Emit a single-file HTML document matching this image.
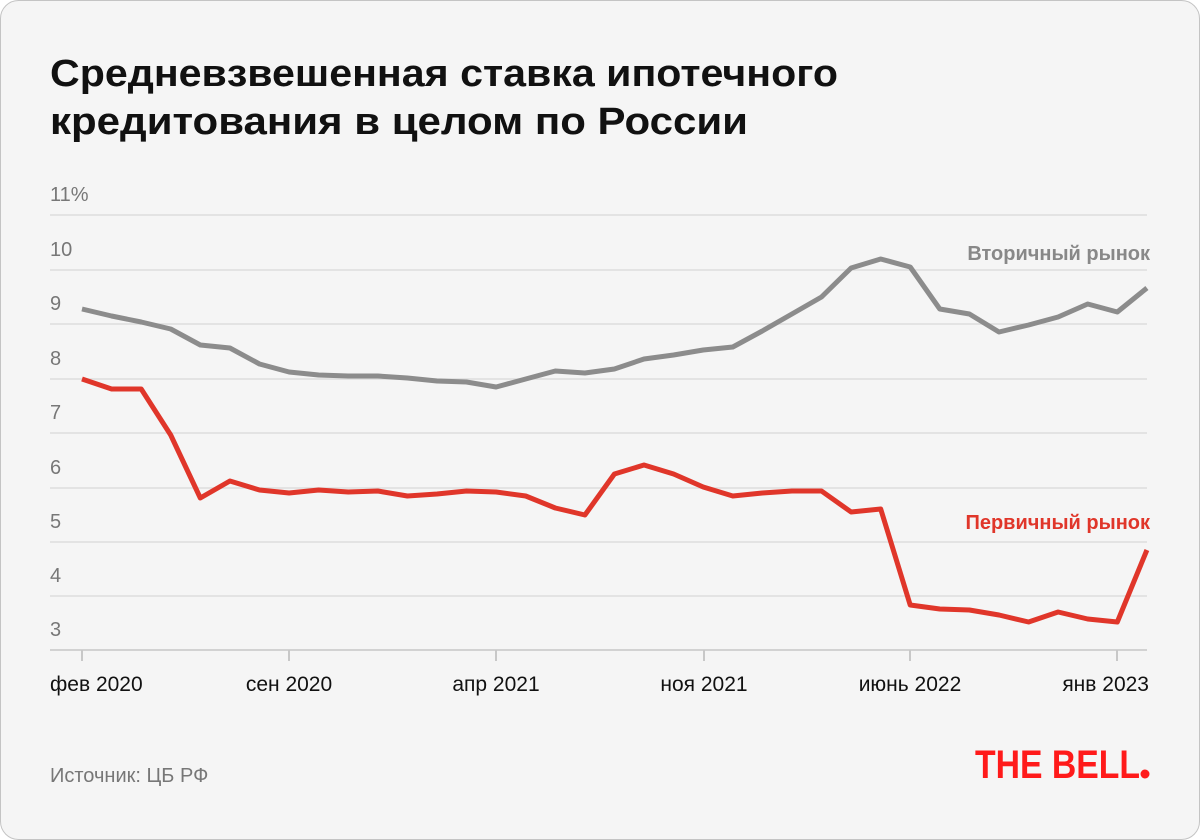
<!DOCTYPE html>
<html><head><meta charset="utf-8"><style>
html,body{margin:0;padding:0;background:#fff;}
svg{display:block;}
</style></head><body>
<svg width="1200" height="840" viewBox="0 0 1200 840" xmlns="http://www.w3.org/2000/svg" font-family="Liberation Sans, DejaVu Sans, sans-serif">
<rect x="0.5" y="0.5" width="1199" height="839" rx="18" fill="#f5f5f5" stroke="#c4c4c4" stroke-width="1"/>
<text x="50" y="86" font-size="38" font-weight="bold" fill="#111" textLength="788" lengthAdjust="spacingAndGlyphs">Средневзвешенная ставка ипотечного</text>
<text x="50" y="134" font-size="38" font-weight="bold" fill="#111" textLength="698" lengthAdjust="spacingAndGlyphs">кредитования в целом по России</text>
<g stroke="#dddddd" stroke-width="1.5">
<line x1="50" x2="1147" y1="215" y2="215"/>
<line x1="50" x2="1147" y1="270" y2="270"/>
<line x1="50" x2="1147" y1="324" y2="324"/>
<line x1="50" x2="1147" y1="379" y2="379"/>
<line x1="50" x2="1147" y1="433" y2="433"/>
<line x1="50" x2="1147" y1="488" y2="488"/>
<line x1="50" x2="1147" y1="542" y2="542"/>
<line x1="50" x2="1147" y1="596" y2="596"/>
</g>
<line x1="50" x2="1147" y1="650" y2="650" stroke="#d2d2d2" stroke-width="2"/>
<g stroke="#c8c8c8" stroke-width="2">
<line x1="82" x2="82" y1="650" y2="661"/>
<line x1="289" x2="289" y1="650" y2="661"/>
<line x1="496" x2="496" y1="650" y2="661"/>
<line x1="704" x2="704" y1="650" y2="661"/>
<line x1="910" x2="910" y1="650" y2="661"/>
<line x1="1117" x2="1117" y1="650" y2="661"/>
</g>
<g font-size="20" fill="#777">
<text x="50" y="201">11%</text>
<text x="50" y="256">10</text>
<text x="50" y="310">9</text>
<text x="50" y="365">8</text>
<text x="50" y="419">7</text>
<text x="50" y="474">6</text>
<text x="50" y="528">5</text>
<text x="50" y="582">4</text>
<text x="50" y="636">3</text>
</g>
<g font-size="21" fill="#111">
<text x="50" y="691">фев 2020</text>
<text x="289" y="691" text-anchor="middle">сен 2020</text>
<text x="496" y="691" text-anchor="middle">апр 2021</text>
<text x="704" y="691" text-anchor="middle">ноя 2021</text>
<text x="910" y="691" text-anchor="middle">июнь 2022</text>
<text x="1149" y="691" text-anchor="end">янв 2023</text>
</g>
<polyline fill="none" stroke="#8c8c8c" stroke-width="5" stroke-linejoin="round" points="82,309 111.6,316 141.2,322 170.7,329 200.3,345 229.9,348 259.5,364 289.1,372 318.6,375 348.2,376 377.8,376 407.4,378 437,381 466.5,382 496.1,387 525.7,379 555.3,371 584.9,373 614.4,369 644,359 673.6,355 703.2,350 732.8,347 762.3,331 791.9,314 821.5,297 851.1,268 880.7,259 910.2,267 939.8,309 969.4,314 999,332 1028.6,325 1058.1,317 1087.7,304 1117.3,312 1146.9,288"/>
<polyline fill="none" stroke="#e0362a" stroke-width="5" stroke-linejoin="round" points="82,379 111.6,389 141.2,389 170.7,435 200.3,498 229.9,481 259.5,490 289.1,493 318.6,490 348.2,492 377.8,491 407.4,496 437,494 466.5,491 496.1,492 525.7,496 555.3,508 584.9,515 614.4,474 644,465 673.6,474 703.2,487 732.8,496 762.3,493 791.9,491 821.5,491 851.1,512 880.7,509 910.2,605 939.8,609 969.4,610 999,615 1028.6,622 1058.1,612 1087.7,619 1117.3,622 1146.9,550"/>
<text x="1150" y="260" font-size="20" font-weight="bold" fill="#888" text-anchor="end">Вторичный рынок</text>
<text x="1150" y="529" font-size="20" font-weight="bold" fill="#e0362a" text-anchor="end">Первичный рынок</text>
<text x="50" y="782" font-size="20" fill="#777">Источник: ЦБ РФ</text>
<text x="975" y="778" font-size="40" font-weight="bold" fill="#ff1a1a" textLength="165" lengthAdjust="spacingAndGlyphs">THE BELL</text>
<circle cx="1145" cy="774" r="4.5" fill="#ff1a1a"/>
</svg>
</body></html>
